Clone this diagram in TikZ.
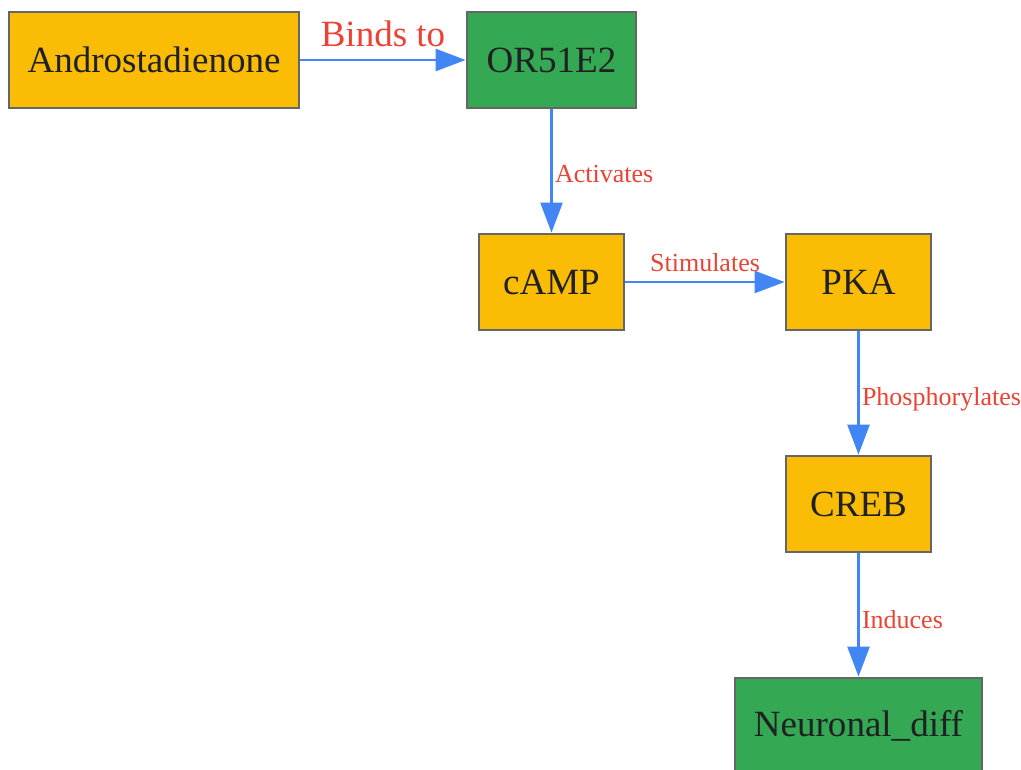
\documentclass[tikz,border=0pt]{standalone}
\usepackage{fontspec}
\setmainfont{Liberation Serif}
\usetikzlibrary{arrows.meta, positioning}
\definecolor{signal}{HTML}{FBBC05}
\definecolor{receptor}{HTML}{34A853}
\definecolor{frame}{HTML}{666666}
\definecolor{link}{HTML}{4285F4}
\definecolor{verb}{HTML}{EA4335}
\definecolor{ink}{HTML}{202124}

\begin{document}
\begin{tikzpicture}[x=0.3mm, y=-0.3mm,
	box/.style={rectangle, draw=frame, line width=2.4pt, text=ink, minimum height=28.8mm, inner sep=0pt, font=\fontsize{31.6}{38}\selectfont},
	flow/.style={draw=link, line width=2pt, -{Triangle[length=25.6pt, width=18.8pt]}},
	act/.style={text=verb, inner sep=2pt, font=\fontsize{22.2}{26}\selectfont}]
	\useasboundingbox (0,0) rectangle (1021,770);
	% nodes
	\node[box, fill=signal, minimum width=87mm] (andro) at (154,60) {Androstadienone};
	\node[box, fill=receptor, minimum width=50.7mm] (olfr) at (551.5,60) {OR51E2};
	\node[box, fill=signal, minimum width=43.5mm] (camp) at (551.5,282) {cAMP};
	\node[box, fill=signal, minimum width=43.5mm] (pka) at (858.5,282) {PKA};
	\node[box, fill=signal, minimum width=43.5mm] (creb) at (858.5,504) {CREB};
	\node[box, fill=receptor, minimum width=74.1mm] (neuro) at (858.5,726) {Neuronal\_diff};
	% edges
	\draw[flow] (andro) -- node[act, midway, above, yshift=8.5pt, font=\fontsize{31.6}{38}\selectfont] {Binds to} (olfr);
	\draw[flow] (olfr) -- node[act, midway, right, yshift=-2.5pt] {Activates} (camp);
	\draw[flow] (camp) -- node[act, midway, above, yshift=6pt] {Stimulates} (pka);
	\draw[flow] (pka) -- node[act, midway, right, yshift=-5pt] {Phosphorylates} (creb);
	\draw[flow] (creb) -- node[act, midway, right, yshift=-3.5pt] {Induces} (neuro);
\end{tikzpicture}
\end{document}
